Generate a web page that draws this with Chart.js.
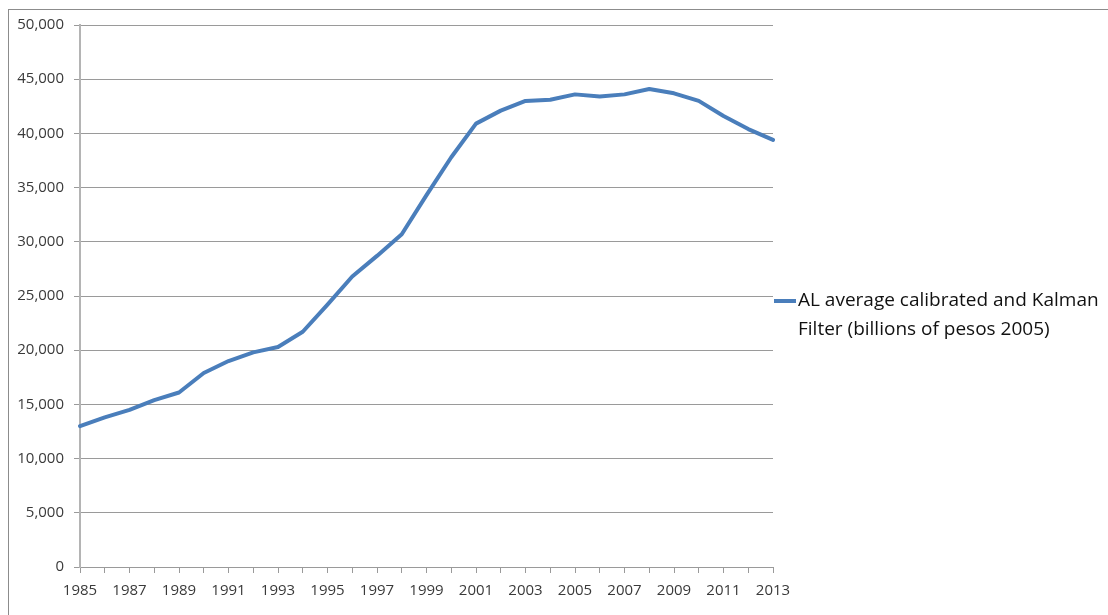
<!DOCTYPE html>
<html>
<head>
<meta charset="utf-8">
<script src="https://cdn.jsdelivr.net/npm/chart.js@4/dist/chart.umd.min.js"></script>
<style>
  html, body { margin: 0; padding: 0; background: #fff; overflow: hidden; }
  #frame { position: absolute; left: 8px; top: 9px; width: 1200px; height: 700px; border: 1px solid #8c8c8c; }
  #wrap { position: absolute; left: 0; top: 0; width: 1108px; height: 615px; }
</style>
</head>
<body>
<div id="frame"></div>
<div id="wrap"><canvas id="chart" width="1108" height="615"></canvas></div>
<script>
// years on the x axis
const years = ['1985','1986','1987','1988','1989','1990','1991','1992','1993','1994',
  '1995','1996','1997','1998','1999','2000','2001','2002','2003','2004',
  '2005','2006','2007','2008','2009','2010','2011','2012','2013']

// AL average calibrated and Kalman filter, billions of pesos 2005
const alValues = [13000, 13800, 14500, 15400, 16100, 17900, 19000, 19800, 20300, 21700,
  24200, 26800, 28700, 30700, 34300, 37800, 40900, 42100, 43000, 43100,
  43600, 43400, 43600, 44100, 43700, 43000, 41600, 40400, 39400]

const seriesLabel = 'AL average calibrated and Kalman Filter (billions of pesos 2005)'
const legendLines = ['AL average calibrated and Kalman', 'Filter (billions of pesos 2005)']

const lineColor = '#4a7ebb'
const gridColor = '#9a9a9a'
const textColor = '#3a3a3a'

// legend drawn to the right of the plot, two lines like the original
const sideLegend = {
  id: 'sideLegend',
  afterDraw(chart) {
    const ctx = chart.ctx
    const area = chart.chartArea
    const x0 = area.right + 1
    const yMid = 301
    ctx.save()
    ctx.strokeStyle = lineColor
    ctx.lineWidth = 4
    ctx.beginPath()
    ctx.moveTo(x0, yMid)
    ctx.lineTo(x0 + 22, yMid)
    ctx.stroke()
    ctx.fillStyle = '#111'
    ctx.font = '19px "Open Sans"'
    ctx.textBaseline = 'middle'
    ctx.textAlign = 'left'
    ctx.fillText(legendLines[0], x0 + 24, yMid)
    ctx.fillText(legendLines[1], x0 + 24, yMid + 29)
    ctx.restore()
  }
}

new Chart(document.getElementById('chart'), {
  type: 'line',
  data: {
    labels: years,
    datasets: [{
      label: seriesLabel,
      data: alValues,
      borderColor: lineColor,
      backgroundColor: lineColor,
      borderWidth: 4,
      pointRadius: 0,
      tension: 0,
      borderJoinStyle: 'round',
      borderCapStyle: 'round'
    }]
  },
  options: {
    responsive: false,
    animation: false,
    layout: { padding: { top: 25, right: 335, left: 0, bottom: 0 } },
    plugins: {
      legend: { display: false },
      tooltip: { enabled: false }
    },
    scales: {
      x: {
        offset: false,
        border: { color: gridColor, width: 1 },
        grid: { drawOnChartArea: false, drawTicks: true, tickLength: 6, color: gridColor },
        ticks: {
          autoSkip: false,
          maxRotation: 0,
          color: textColor,
          font: { family: 'Open Sans', size: 15 },
          padding: 9,
          callback: function(val, i) { return i % 2 === 0 ? this.getLabelForValue(val) : '' }
        },
        afterFit: s => { s.height = 48 }
      },
      y: {
        min: 0,
        max: 50000,
        border: { color: '#b4b4b4', width: 2 },
        grid: { color: gridColor, lineWidth: 1, tickLength: 6 },
        ticks: {
          stepSize: 5000,
          color: textColor,
          font: { family: 'Open Sans', size: 15 },
          padding: 10,
          callback: v => v.toLocaleString('en-US')
        },
        afterFit: s => { s.width = 80 }
      }
    }
  },
  plugins: [sideLegend]
})
</script>
</body>
</html>
